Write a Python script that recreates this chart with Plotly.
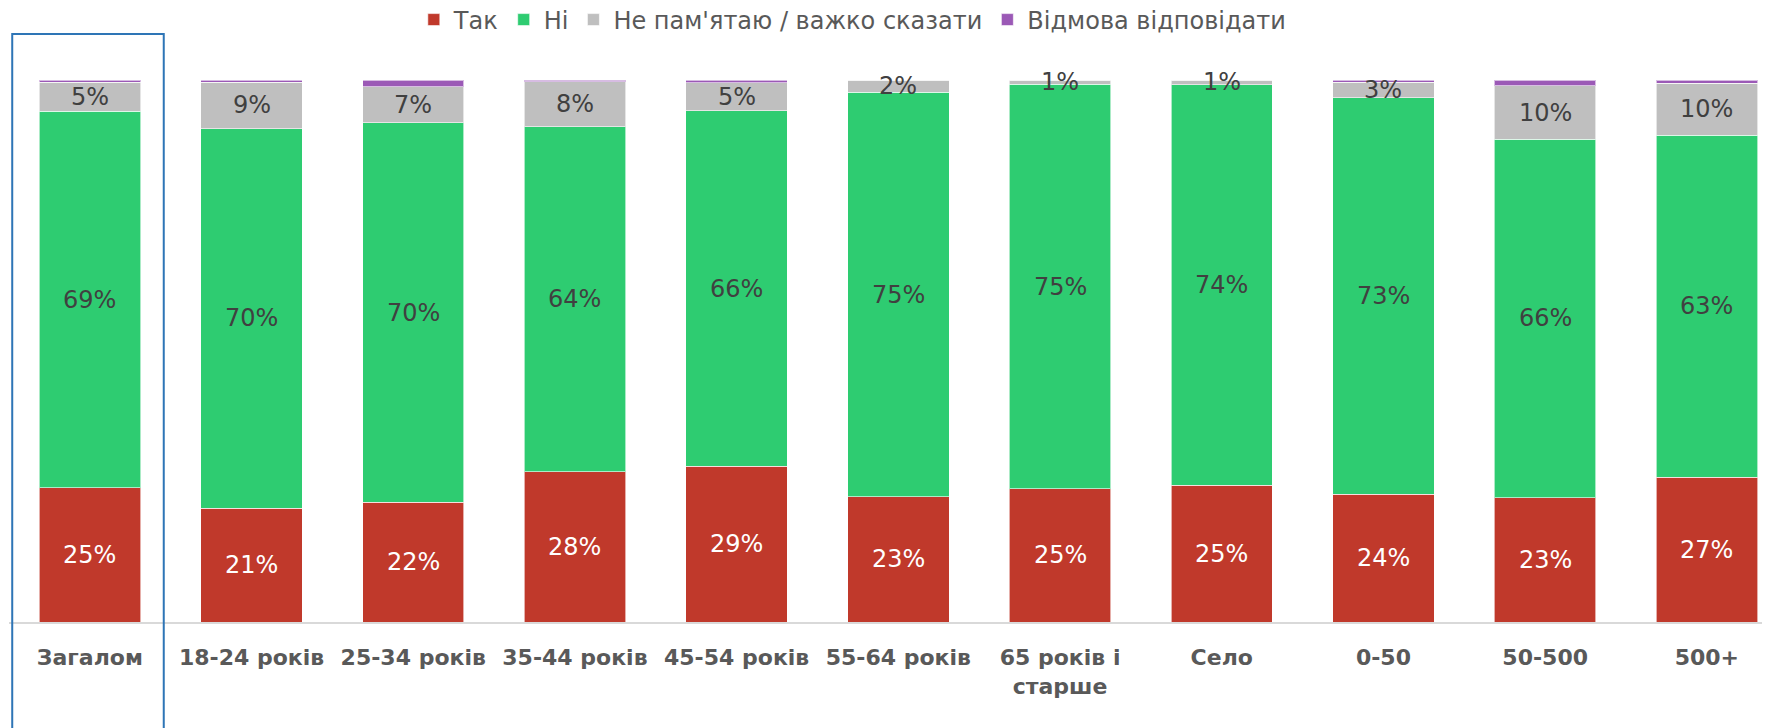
import plotly.graph_objects as go

categories = ["Загалом", "18-24 років", "25-34 років", "35-44 років", "45-54 років",
              "55-64 років", "65 років і<br>старше", "Село", "0-50", "50-500", "500+"]
tak = [24.8, 21.0, 22.1, 27.7, 28.7, 23.1, 24.6, 25.2, 23.6, 22.9, 26.7]
ni = [69.4, 70.0, 70.0, 63.7, 65.6, 74.6, 74.6, 73.9, 73.1, 66.2, 63.1]
ne_pam = [5.4, 8.6, 6.7, 8.3, 5.2, 2.3, 0.8, 0.9, 2.9, 9.8, 9.6]
vidmova = [0.4, 0.4, 1.2, 0.3, 0.5, 0.0, 0.0, 0.0, 0.4, 1.1, 0.6]

series = [
    ("Так", tak, "#C0392B", "#FFFFFF", True),
    ("Ні", ni, "#2ECC71", "#404040", True),
    ("Не пам'ятаю / важко сказати", ne_pam, "#BFBFBF", "#404040", True),
    ("Відмова відповідати", vidmova, "#9B59B6", "#404040", False),
]

FONT = "DejaVu Sans"
fig = go.Figure()
xs = list(range(len(categories)))
base = [0.0] * len(categories)
for name, vals, color, tcolor, show_text in series:
    fig.add_trace(go.Bar(
        name=name, x=xs, y=vals,
        marker=dict(color=color, line=dict(color="rgba(255,255,255,0.6)", width=1)),
        hoverinfo="skip",
    ))
    if show_text:
        for i, v in enumerate(vals):
            fig.add_annotation(x=i, y=base[i] + v / 2, xref="x", yref="y",
                               text=f"{round(v)}%", showarrow=False,
                               xanchor="center", yanchor="middle",
                               font=dict(family=FONT, size=24, color=tcolor))
    base = [b + v for b, v in zip(base, vals)]

fig.update_layout(
    barmode="stack",
    bargap=0.373,
    width=1770, height=728,
    margin=dict(l=1, r=0, t=72, b=114),
    paper_bgcolor="white", plot_bgcolor="white",
    legend=dict(orientation="h", x=0.477, xanchor="center",
                y=(728 - 12) / 728, yref="container", yanchor="middle",
                font=dict(family=FONT, size=24, color="#595959"),
                traceorder="normal"),
    showlegend=True,
)
fig.update_xaxes(
    range=[-0.5, 10.44], tickvals=xs, ticktext=categories,
    showgrid=False, zeroline=False, showline=True, linecolor="#D9D9D9", linewidth=2,
    ticks="outside", ticklen=15, tickcolor="rgba(0,0,0,0)",
    tickfont=dict(family=FONT, size=22, color="#595959", weight="bold"),
    tickangle=0,
)
fig.update_yaxes(range=[0, 100], visible=False, showgrid=False)

fig.add_shape(type="rect", xref="x", yref="paper", x0=-0.48, x1=0.457,
              y0=-0.5, y1=(728 - 26 - 114) / 542,
              line=dict(color="#2E75B6", width=2), fillcolor="rgba(0,0,0,0)", layer="above")

fig.write_html("out.html")
